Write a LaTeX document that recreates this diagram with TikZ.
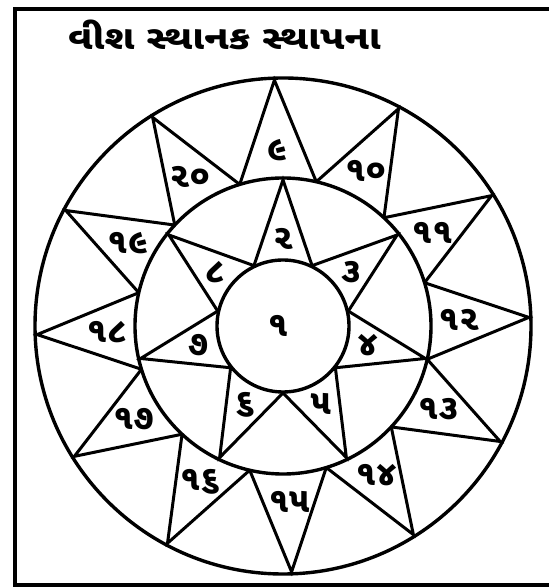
\documentclass[tikz,border=0pt]{standalone}
\usepackage{fontspec}
\newfontfamily\guj[Script=Gujarati]{Noto Sans Gujarati UI}
\begin{document}
\begin{tikzpicture}[x=1pt,y=1pt,
  ln/.style={line width=3pt, line join=miter, line cap=butt},
  circ/.style={line width=3.4pt},
  frame/.style={line width=4pt},
  num/.style={font=\guj\bfseries\fontsize{35}{35}\selectfont, inner sep=0pt},
  ttl/.style={font=\guj\bfseries\fontsize{33}{33}\selectfont, inner sep=0pt, anchor=base west}]
\useasboundingbox (0,0) rectangle (548,588);
\draw[frame] (560,579) -- (15,579) -- (15,3) -- (560,3);
\coordinate (C) at (283,262);
\node[ttl] (title) at (68,538) {\scalebox{1.19}[1]{વીશ સ્થાનક સ્થાપના}};
% circles
\draw[circ] (C) circle[radius=248];
\draw[circ] (C) circle[radius=148];
\draw[circ] (C) circle[radius=66];
% outer 12-point star
\foreach \i in {0,...,11}{
  \pgfmathsetmacro\a{92-30*\i}
  \coordinate (T\i) at ([shift={(C)}]\a:246);
  \coordinate (L\i) at ([shift={(C)}]\a+15:148);
  \coordinate (R\i) at ([shift={(C)}]\a-15:148);
  \draw[ln] (L\i) -- (T\i) -- (R\i);
}
% inner 7-point star
\foreach \i in {0,...,6}{
  \pgfmathsetmacro\a{90-\i*360/7}
  \coordinate (S\i) at ([shift={(C)}]\a:146);
  \coordinate (SL\i) at ([shift={(C)}]\a+180/7:67);
  \coordinate (SR\i) at ([shift={(C)}]\a-180/7:67);
  \draw[ln] (SL\i) -- (S\i) -- (SR\i);
}
% labels
\foreach \i/\t in {0/૯,1/૧૦,2/૧૧,3/૧૨,4/૧૩,5/૧૪,6/૧૫,7/૧૬,8/૧૭,9/૧૮,10/૧૯,11/૨૦}{
  \pgfmathsetmacro\a{92-30*\i}
  \node[num] (o\i) at ([shift={(C)}]\a:176) {\t};
}
\foreach \i/\t in {0/૨,1/૩,2/૪,3/૫,4/૬,5/૭,6/૮}{
  \pgfmathsetmacro\a{90-\i*360/7}
  \node[num] (n\i) at ([shift={(C)}]\a:87) {\t};
}
\node[num] (one) at (278,262) {૧};
\end{tikzpicture}
\end{document}
